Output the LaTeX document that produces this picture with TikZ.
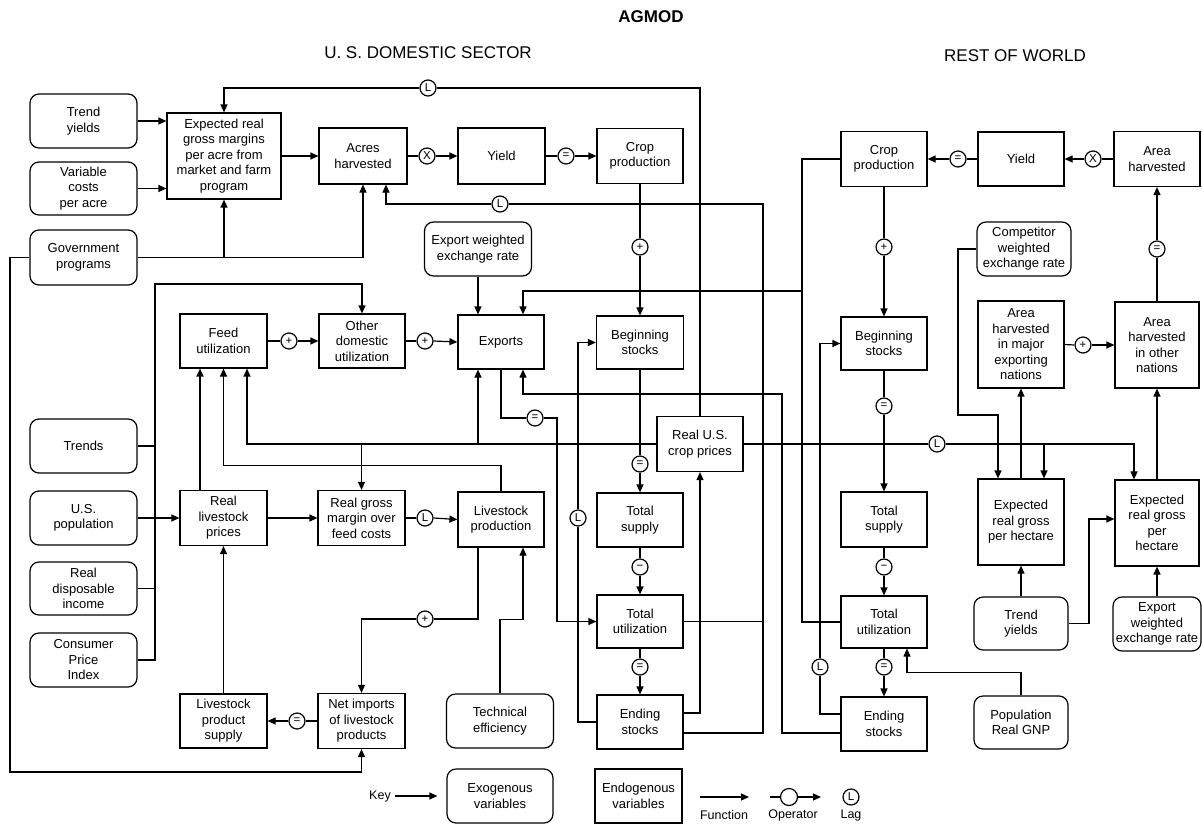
\documentclass[tikz,border=0pt]{standalone}
\usepackage{fontspec}
\setmainfont{Liberation Sans}
\usetikzlibrary{arrows.meta,calc}
\begin{document}
\begin{tikzpicture}[x=1pt,y=-1pt,line width=1.2pt,
  every node/.style={font=\fontsize{13}{15.5}\selectfont},
  exo/.style={draw,rounded corners=9pt,align=center,inner sep=2pt,line width=1.2pt},
  endo/.style={draw,align=center,inner sep=2pt,line width=1.2pt},
  op/.style={draw,circle,minimum size=16pt,inner sep=0pt,line width=1.2pt,font=\fontsize{11.5}{12}\selectfont},
  keytxt/.style={font=\fontsize{12.5}{14}\selectfont},
  ttl/.style={font=\fontsize{17}{20}\selectfont},
  arr/.style={-{Triangle[length=8pt,width=7pt]}}]
\useasboundingbox (0,0) rectangle (1202,825);
\fill[white] (0,0) rectangle (1202,825);

% titles
\node[ttl,font=\fontsize{17}{20}\selectfont\bfseries] (title) at (651,17) {AGMOD};
\node[ttl] (usT) at (428,53) {U. S. DOMESTIC SECTOR};
\node[ttl] (rowT) at (1015,56) {REST OF WORLD};

% exogenous US
\node[exo,minimum width=107pt,minimum height=54pt] (tyUS) at (83.5,121) {Trend\\yields};
\node[exo,minimum width=107pt,minimum height=53pt] (vc) at (83.5,188.5) {Variable\\costs\\per acre};
\node[exo,minimum width=107pt,minimum height=55pt] (gov) at (83.5,257.5) {Government\\programs};
\node[exo,minimum width=107pt,minimum height=54pt] (trends) at (83.5,446) {Trends};
\node[exo,minimum width=107pt,minimum height=54pt] (pop) at (83.5,518) {U.S.\\population};
\node[exo,minimum width=107pt,minimum height=53pt] (rdi) at (83.5,588.5) {Real\\disposable\\income};
\node[exo,minimum width=107pt,minimum height=54pt] (cpi) at (83.5,660) {Consumer\\Price\\Index};
\node[exo,minimum width=107pt,minimum height=54pt] (ewer) at (478,249) {Export weighted\\exchange rate};
\node[exo,minimum width=107pt,minimum height=54pt] (techeff) at (500,721) {Technical\\efficiency};
\node[exo,minimum width=106pt,minimum height=54pt] (keyexo) at (500,796) {Exogenous\\variables};

% endogenous US
\node[endo,minimum width=114pt,minimum height=86pt] (exp) at (224,156) {Expected real\\gross margins\\per acre from\\market and farm\\program};
\node[endo,minimum width=88pt,minimum height=56pt] (acres) at (363,156) {Acres\\harvested};
\node[endo,minimum width=87pt,minimum height=56pt] (yieldUS) at (501.5,156) {Yield};
\node[endo,minimum width=86pt,minimum height=55pt] (cropUS) at (640,156) {Crop\\production};
\node[endo,minimum width=87pt,minimum height=54pt] (feed) at (223.5,341) {Feed\\utilization};
\node[endo,minimum width=86pt,minimum height=54pt] (other) at (362,341) {Other\\domestic\\utilization};
\node[endo,minimum width=86pt,minimum height=54pt] (exports) at (501,342) {Exports};
\node[endo,minimum width=87pt,minimum height=53pt] (begUS) at (640,342.5) {Beginning\\stocks};
\node[endo,minimum width=86pt,minimum height=55pt] (cprice) at (700,444) {Real U.S.\\crop prices};
\node[endo,minimum width=87pt,minimum height=55pt] (rlp) at (223.5,518) {Real\\livestock\\prices};
\node[endo,minimum width=87pt,minimum height=55pt] (rgm) at (361.5,518) {Real gross\\margin over\\feed costs};
\node[endo,minimum width=86pt,minimum height=55pt] (lsp) at (501,519.5) {Livestock\\production};
\node[endo,minimum width=86pt,minimum height=54pt] (tsUS) at (640,520) {Total\\supply};
\node[endo,minimum width=86pt,minimum height=53pt] (tuUS) at (640,621.5) {Total\\utilization};
\node[endo,minimum width=86pt,minimum height=54pt] (esUS) at (640,722) {Ending\\stocks};
\node[endo,minimum width=87pt,minimum height=54pt] (lps) at (223.5,721) {Livestock\\product\\supply};
\node[endo,minimum width=87pt,minimum height=55pt] (netimp) at (361.5,721) {Net imports\\of livestock\\products};
\node[endo,minimum width=87pt,minimum height=54pt] (keyendo) at (638.5,796) {Endogenous\\variables};

% rest of world
\node[endo,minimum width=86pt,minimum height=55pt] (cropROW) at (884,159) {Crop\\production};
\node[endo,minimum width=86pt,minimum height=54pt] (yieldROW) at (1021,159) {Yield};
\node[endo,minimum width=86pt,minimum height=55pt] (areaH) at (1157,159) {Area\\harvested};
\node[exo,minimum width=94pt,minimum height=54pt] (comp) at (1024,249) {Competitor\\weighted\\exchange rate};
\node[endo,minimum width=86pt,minimum height=53pt] (begROW) at (884,343.5) {Beginning\\stocks};
\node[endo,minimum width=86pt,minimum height=87pt] (areaMaj) at (1021,344.5) {Area\\harvested\\in major\\exporting\\nations};
\node[endo,minimum width=84pt,minimum height=86pt] (areaOth) at (1157,345) {Area\\harvested\\in other\\nations};
\node[endo,minimum width=86pt,minimum height=55pt] (tsROW) at (884,519.5) {Total\\supply};
\node[endo,minimum width=86pt,minimum height=86pt] (expL) at (1021,522) {Expected\\real gross\\per hectare};
\node[endo,minimum width=84pt,minimum height=86pt] (expR) at (1157,523) {Expected\\real gross\\per\\hectare};
\node[endo,minimum width=86pt,minimum height=52pt] (tuROW) at (884,622) {Total\\utilization};
\node[endo,minimum width=86pt,minimum height=54pt] (esROW) at (884,724) {Ending\\stocks};
\node[exo,minimum width=94pt,minimum height=53pt] (tyROW) at (1021,623.5) {Trend\\yields};
\node[exo,minimum width=88pt,minimum height=54pt] (ewerROW) at (1157,624) {Export\\weighted\\exchange rate};
\node[exo,minimum width=94pt,minimum height=53pt] (popgnp) at (1021,722.5) {Population\\Real GNP};

% operators
\node[op] (L1) at (428,88) {L};
\node[op] (oX1) at (427,156) {X};
\node[op] (oE1) at (566,156) {=};
\node[op] (L2) at (500,204) {L};
\node[op] (oP1) at (640,247) {+};
\node[op] (oP2) at (289,341) {+};
\node[op] (oP3) at (425,341) {+};
\node[op] (oE2) at (535,418) {=};
\node[op] (oE3) at (640,464) {=};
\node[op] (oL3) at (425,518) {L};
\node[op] (oL4) at (578,518) {L};
\node[op] (oM1) at (640,567) {−};
\node[op] (oE4) at (640,667) {=};
\node[op] (oP4) at (425,619) {+};
\node[op] (oE5) at (297,721) {=};
\node[op] (oE6) at (958,159) {=};
\node[op] (oX2) at (1093,159) {X};
\node[op] (oP5) at (884,247) {+};
\node[op] (oE7) at (1157,249) {=};
\node[op] (oP6) at (1083,345) {+};
\node[op] (oE8) at (884,406) {=};
\node[op] (oL5) at (937,444) {L};
\node[op] (oM2) at (884,567) {−};
\node[op] (oE9) at (884,667) {=};
\node[op] (oL6) at (820,667) {L};

% bus coordinates
\coordinate (b155) at (155,284);
\coordinate (b10) at (10,772);
\coordinate (b763) at (763,204);
\coordinate (b802) at (802,291);
\coordinate (b782) at (782,394);
\coordinate (b557) at (557,621.5);
\coordinate (cL) at (1044,444);
\coordinate (bcomp) at (958,415);
\coordinate (bty) at (1089,519);

% US connectors
\draw[arr] (tyUS.east) -- (tyUS.east -| exp.west);
\draw[arr] (vc.east) -- (vc.east -| exp.west);
\draw[arr] (exp.east) -- (acres.west);
\draw (acres.east) -- (oX1.west); \draw[arr] (oX1.east) -- (yieldUS.west);
\draw (yieldUS.east) -- (oE1.west); \draw[arr] (oE1.east) -- (cropUS.west);
\draw (cropUS.south) -- (oP1.north); \draw[arr] (oP1.south) -- (begUS.north);
\draw (begUS.south) -- (oE3.north); \draw[arr] (oE3.south) -- (tsUS.north);
\draw (tsUS.south) -- (oM1.north); \draw[arr] (oM1.south) -- (tuUS.north);
\draw (tuUS.south) -- (oE4.north); \draw[arr] (oE4.south) -- (esUS.north);

\draw (cprice.north) |- (L1.east); \draw[arr] (L1.west) -| (exp.north);
\draw ($(esUS.east)+(0,11)$) -| (b763) -- (L2.east);
\draw[arr] (L2.west) -| ($(acres.south)+(23,0)$);
\draw (tuUS.east) -- (tuUS.east -| b763);
\draw[arr] ($(esUS.east)+(0,-9)$) -| (cprice.south);
\draw (esUS.west) -| (oL4.south); \draw[arr] (oL4.north) |- (begUS.west);

\draw[arr] (gov.east) -| (acres.south);
\draw[arr] (gov.east -| exp.south) -- (exp.south);
\draw[arr] (gov.west) -| (b10) -| (netimp.south);

\draw[arr] (cpi.east) -| (b155) -| (other.north);
\draw (trends.east) -- (trends.east -| b155);
\draw (rdi.east) -- (rdi.east -| b155);

\draw (feed.east) -- (oP2.west); \draw[arr] (oP2.east) -- (other.west);
\draw (other.east) -- (oP3.west); \draw[arr] (oP3.east) -- (exports.west);
\draw[arr] (ewer.south) -- (ewer.south |- exports.north);
\draw[arr] (cropROW.west) -| (b802) -| ($(exports.north)+(22,0)$);
\draw (tuROW.west) -| (b802);
\draw[arr] ($(esROW.west)+(0,9)$) -| (b782) -| ($(exports.south)+(22,0)$);
\draw (exports.south) |- (oE2.west); \draw[arr] (oE2.east) -| (b557) -- (tuUS.west);

\draw[arr] (cprice.west) -| ($(feed.south)+(23.5,0)$);
\draw[arr] (ewer.south |- cprice.west) -- (ewer.south |- exports.south);
\draw[arr] (rgm.north |- cprice.west) -- (rgm.north);
\draw (cprice.east) -- (oL5.west);
\draw[arr] (oL5.east) -| ($(expR.north)+(-23,0)$);
\draw[arr] (cL) -- (cL |- expL.north);

\draw[arr] ($(rlp.north)+(-23.5,0)$) -- ($(feed.south)+(-23.5,0)$);
\draw[arr] (lsp.north) -- ++(0,-26) -| (feed.south);
\draw[arr] (pop.east) -- (pop.east -| rlp.west);
\draw[arr] (rlp.east) -- (rgm.west);
\draw (rgm.east) -- (oL3.west); \draw[arr] (oL3.east) -- (lsp.west);
\draw[arr] (lps.north) -- (rlp.south);
\draw (netimp.west) -- (oE5.east); \draw[arr] (oE5.west) -- (lps.east);
\draw ($(lsp.south)+(-23,0)$) |- (oP4.east); \draw[arr] (oP4.west) -| (netimp.north);
\draw[arr] (techeff.north) -- ++(0,-74) -| ($(lsp.south)+(22,0)$);

% ROW connectors
\draw (areaH.west) -- (oX2.east); \draw[arr] (oX2.west) -- (yieldROW.east);
\draw (yieldROW.west) -- (oE6.east); \draw[arr] (oE6.west) -- (cropROW.east);
\draw (cropROW.south) -- (oP5.north); \draw[arr] (oP5.south) -- (begROW.north);
\draw (begROW.south) -- (oE8.north); \draw[arr] (oE8.south) -- (tsROW.north);
\draw (tsROW.south) -- (oM2.north); \draw[arr] (oM2.south) -- (tuROW.north);
\draw (tuROW.south) -- (oE9.north); \draw[arr] (oE9.south) -- (esROW.north);
\draw ($(esROW.west)+(0,-10)$) -| (oL6.south); \draw[arr] (oL6.north) |- (begROW.west);
\draw (areaMaj.east) -- (oP6.west); \draw[arr] (oP6.east) -- (areaOth.west);
\draw[arr] (expL.north) -- (areaMaj.south);
\draw[arr] (expR.north) -- (areaOth.south);
\draw (areaOth.north) -- (oE7.south); \draw[arr] (oE7.north) -- (areaH.south);
\draw[arr] (comp.west) -| (bcomp) -| ($(expL.north)+(-23,0)$);
\draw[arr] (tyROW.north) -- (expL.south);
\draw[arr] (tyROW.east) -| (bty) -- (bty -| expR.west);
\draw[arr] (ewerROW.north) -- (expR.south);
\draw[arr] (popgnp.north) -- ++(0,-23) -| ($(tuROW.south)+(23,0)$);

% key
\node[keytxt] (keylbl) at (380,796) {Key};
\draw[arr] (keylbl.east) -- ($(keyexo.west)+(-9,0)$);
\coordinate (fa) at (700,797); \coordinate (fb) at (749,797);
\draw[arr] (fa) -- (fb);
\node[keytxt] (fnl) at (724,815) {Function};
\node[op,minimum size=17pt] (opkey) at (789,797) {};
\coordinate (oa) at (770,797); \coordinate (ob) at (821,797);
\draw (oa) -- (opkey.west); \draw[arr] (opkey.east) -- (ob);
\node[keytxt] (opl) at (793,815) {Operator};
\node[op] (lagkey) at (851,797) {L};
\node[keytxt] (lagl) at (851,815) {Lag};
\end{tikzpicture}
\end{document}
